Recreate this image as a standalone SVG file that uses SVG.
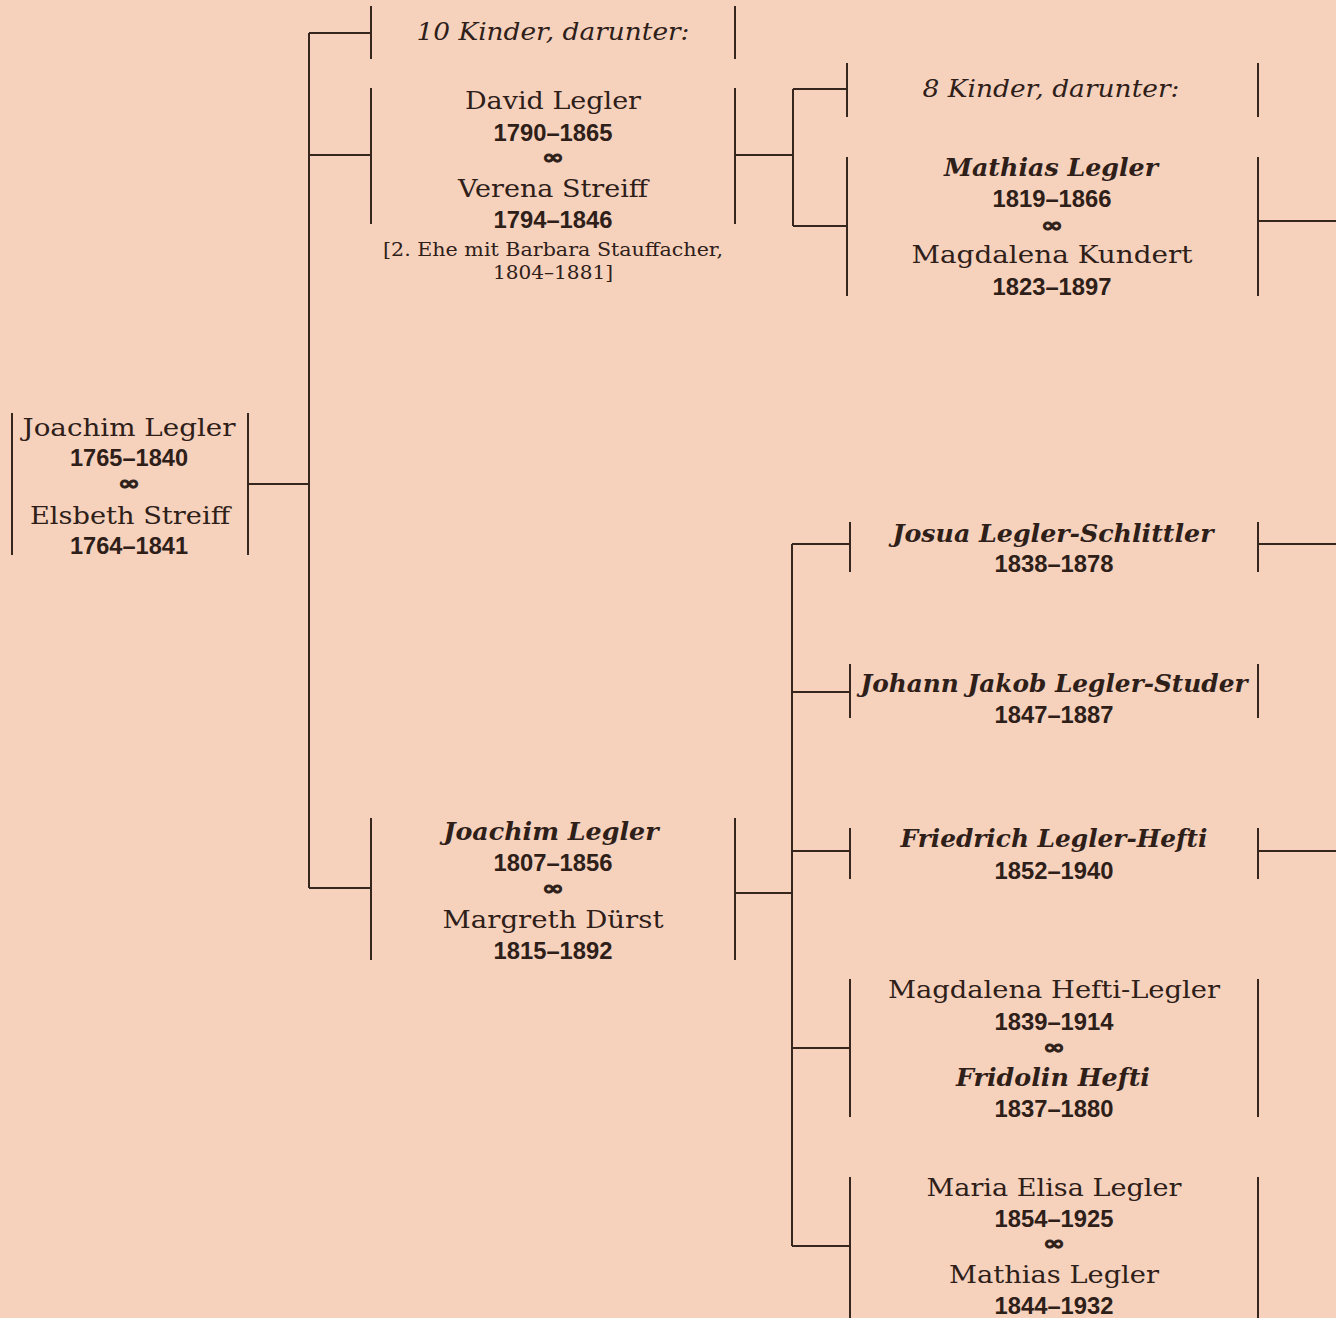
<svg xmlns="http://www.w3.org/2000/svg" width="1336" height="1318" viewBox="0 0 1336 1318">
<style>
.bg{fill:#f6d2bd}
.ln{stroke:#36261e;stroke-width:2;fill:none}
text{fill:#2e2019;text-anchor:middle}
.n{font-family:"DejaVu Serif","Liberation Serif",serif;font-size:25px}
.i{font-family:"DejaVu Serif","Liberation Serif",serif;font-size:24px;font-style:italic}
.bi{font-family:"DejaVu Serif","Liberation Serif",serif;font-size:25px;font-style:italic;font-weight:bold}
.d{font-family:"Liberation Sans",Arial,sans-serif;font-size:24px;font-weight:bold}
.m{font-family:"DejaVu Sans","Liberation Sans",sans-serif;font-size:20px;font-weight:bold;stroke:#2e2019;stroke-width:0.8}
.nt{font-family:"DejaVu Serif","Liberation Serif",serif;font-size:19px}
</style>
<rect class="bg" x="0" y="0" width="1336" height="1318"/>
<g id="connectors" class="ln">
<path d="M248 484H309M309 33V888M309 33H371M309 155H371M309 888H371"/>
<path d="M735 155H793M793 89V226M793 89H847M793 226H847"/>
<path d="M1258 221H1336"/>
<path d="M735 893H792M792 544V1246M792 544H850M792 692H850M792 851H850M792 1048H850M792 1246H850"/>
<path d="M1258 544H1336M1258 851H1336"/>
</g>
<g id="n-joachim-1765">
<path class="ln" d="M12 413V555M248 413V555"/>
<text class="n" x="129" y="436" textLength="213" lengthAdjust="spacingAndGlyphs">Joachim Legler</text>
<text class="d" x="129" y="466" textLength="118" lengthAdjust="spacingAndGlyphs">1765–1840</text>
<text class="m" x="129" y="490" textLength="22" lengthAdjust="spacingAndGlyphs">∞</text>
<text class="n" x="130" y="524" textLength="200" lengthAdjust="spacingAndGlyphs">Elsbeth Streiff</text>
<text class="d" x="129" y="554" textLength="118" lengthAdjust="spacingAndGlyphs">1764–1841</text>
</g>
<g id="n-10kinder">
<path class="ln" d="M371 6V59M735 6V59"/>
<text class="i" x="553" y="40" textLength="273" lengthAdjust="spacingAndGlyphs">10 Kinder, darunter:</text>
</g>
<g id="n-david">
<path class="ln" d="M371 88V224M735 88V224"/>
<text class="n" x="553" y="109" textLength="176" lengthAdjust="spacingAndGlyphs">David Legler</text>
<text class="d" x="553" y="141" textLength="119" lengthAdjust="spacingAndGlyphs">1790–1865</text>
<text class="m" x="553" y="164" textLength="22" lengthAdjust="spacingAndGlyphs">∞</text>
<text class="n" x="553" y="197" textLength="190" lengthAdjust="spacingAndGlyphs">Verena Streiff</text>
<text class="d" x="553" y="228" textLength="119" lengthAdjust="spacingAndGlyphs">1794–1846</text>
<text class="nt" x="553" y="256" textLength="340" lengthAdjust="spacingAndGlyphs">[2. Ehe mit Barbara Stauffacher,</text>
<text class="nt" x="553" y="279" textLength="120" lengthAdjust="spacingAndGlyphs">1804–1881]</text>
</g>
<g id="n-joachim-1807">
<path class="ln" d="M371 818V960M735 818V960"/>
<text class="bi" x="551" y="840" textLength="215" lengthAdjust="spacingAndGlyphs">Joachim Legler</text>
<text class="d" x="553" y="871" textLength="119" lengthAdjust="spacingAndGlyphs">1807–1856</text>
<text class="m" x="553" y="895" textLength="22" lengthAdjust="spacingAndGlyphs">∞</text>
<text class="n" x="553" y="928" textLength="221" lengthAdjust="spacingAndGlyphs">Margreth Dürst</text>
<text class="d" x="553" y="959" textLength="119" lengthAdjust="spacingAndGlyphs">1815–1892</text>
</g>
<g id="n-8kinder">
<path class="ln" d="M847 63V117M1258 63V117"/>
<text class="i" x="1051" y="97" textLength="257" lengthAdjust="spacingAndGlyphs">8 Kinder, darunter:</text>
</g>
<g id="n-mathias-1819">
<path class="ln" d="M847 157V296M1258 157V296"/>
<text class="bi" x="1051" y="176" textLength="214" lengthAdjust="spacingAndGlyphs">Mathias Legler</text>
<text class="d" x="1052" y="207" textLength="119" lengthAdjust="spacingAndGlyphs">1819–1866</text>
<text class="m" x="1052" y="232" textLength="22" lengthAdjust="spacingAndGlyphs">∞</text>
<text class="n" x="1052" y="263" textLength="281" lengthAdjust="spacingAndGlyphs">Magdalena Kundert</text>
<text class="d" x="1052" y="295" textLength="119" lengthAdjust="spacingAndGlyphs">1823–1897</text>
</g>
<g id="n-josua">
<path class="ln" d="M850 522V572M1258 522V572"/>
<text class="bi" x="1053" y="542" textLength="321" lengthAdjust="spacingAndGlyphs">Josua Legler-Schlittler</text>
<text class="d" x="1054" y="572" textLength="119" lengthAdjust="spacingAndGlyphs">1838–1878</text>
</g>
<g id="n-johann">
<path class="ln" d="M850 664V718M1258 664V718"/>
<text class="bi" x="1054" y="692" textLength="387" lengthAdjust="spacingAndGlyphs">Johann Jakob Legler-Studer</text>
<text class="d" x="1054" y="723" textLength="119" lengthAdjust="spacingAndGlyphs">1847–1887</text>
</g>
<g id="n-friedrich">
<path class="ln" d="M850 828V879M1258 828V879"/>
<text class="bi" x="1054" y="847" textLength="307" lengthAdjust="spacingAndGlyphs">Friedrich Legler-Hefti</text>
<text class="d" x="1054" y="879" textLength="119" lengthAdjust="spacingAndGlyphs">1852–1940</text>
</g>
<g id="n-magdalena">
<path class="ln" d="M850 979V1117M1258 979V1117"/>
<text class="n" x="1054" y="998" textLength="332" lengthAdjust="spacingAndGlyphs">Magdalena Hefti-Legler</text>
<text class="d" x="1054" y="1030" textLength="119" lengthAdjust="spacingAndGlyphs">1839–1914</text>
<text class="m" x="1054" y="1054" textLength="22" lengthAdjust="spacingAndGlyphs">∞</text>
<text class="bi" x="1053" y="1086" textLength="194" lengthAdjust="spacingAndGlyphs">Fridolin Hefti</text>
<text class="d" x="1054" y="1117" textLength="119" lengthAdjust="spacingAndGlyphs">1837–1880</text>
</g>
<g id="n-maria">
<path class="ln" d="M850 1177V1318M1258 1177V1318"/>
<text class="n" x="1054" y="1196" textLength="255" lengthAdjust="spacingAndGlyphs">Maria Elisa Legler</text>
<text class="d" x="1054" y="1227" textLength="119" lengthAdjust="spacingAndGlyphs">1854–1925</text>
<text class="m" x="1054" y="1250" textLength="22" lengthAdjust="spacingAndGlyphs">∞</text>
<text class="n" x="1054" y="1283" textLength="210" lengthAdjust="spacingAndGlyphs">Mathias Legler</text>
<text class="d" x="1054" y="1314" textLength="119" lengthAdjust="spacingAndGlyphs">1844–1932</text>
</g>
</svg>
